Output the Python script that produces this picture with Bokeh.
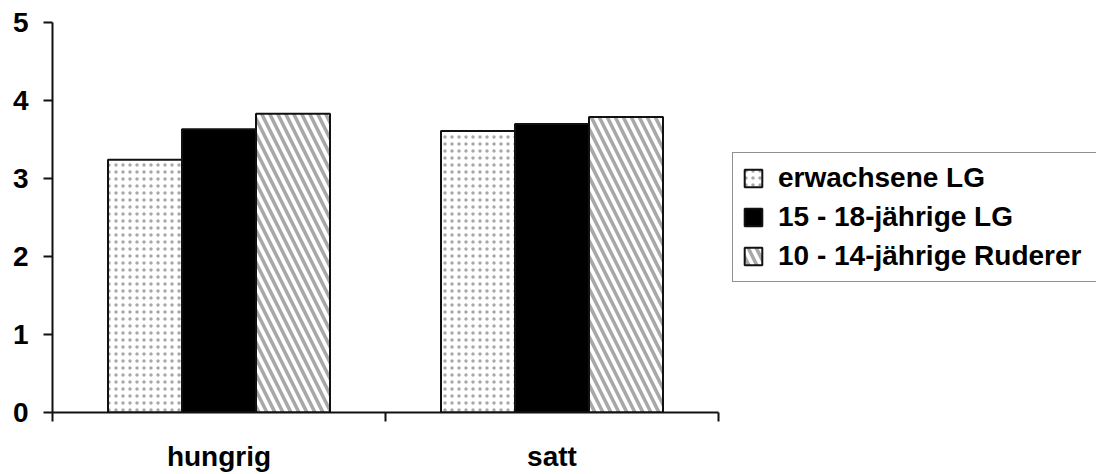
from bokeh.plotting import figure
from bokeh.models import Range1d, FixedTicker, Legend, LegendItem, ColumnDataSource
from bokeh.embed import file_html
from bokeh.resources import INLINE

# Data
categories = ["hungrig", "satt"]
series_names = ["erwachsene LG", "15 - 18-jährige LG", "10 - 14-jährige Ruderer"]
erwachsene_lg = [3.24, 3.61]
lg_15_18 = [3.63, 3.70]
ruderer_10_14 = [3.83, 3.79]
y_ticks = [0, 1, 2, 3, 4, 5]

series_values = [erwachsene_lg, lg_15_18, ruderer_10_14]

FONT = "Liberation Sans"
FONT_SIZE = "28px"

W, H = 1096, 474
LEFT, TOP, BOTTOM = 52, 22, 62
AXIS_PX = 666                      # pixel length of the category axis
n = len(categories)
frame_px = W - LEFT
x_end = n * frame_px / AXIS_PX     # frame runs on past the axis to hold the legend

p = figure(
    width=W, height=H,
    output_backend="svg", toolbar_location=None,
    x_range=Range1d(0, x_end), y_range=Range1d(0, 5),
    min_border_left=LEFT, min_border_right=0,
    min_border_top=TOP, min_border_bottom=BOTTOM,
    background_fill_color="white", border_fill_color="white",
)
p.grid.visible = False
p.outline_line_color = None

# three bars per group, gap of 1.5 bar widths between groups
bar_w = 1.0 / 4.5
offsets = [-bar_w, 0.0, bar_w]

styles = [
    dict(fill_color="white", hatch_pattern="dot", hatch_color="#a8a8a8",
         hatch_scale=7, hatch_weight=1),
    dict(fill_color="black"),
    dict(fill_color="white", hatch_pattern="left_diagonal_line", hatch_color="#a8a8a8",
         hatch_scale=16, hatch_weight=3.5),
]

renderers = []
for name, vals, off, st in zip(series_names, series_values, offsets, styles):
    src = ColumnDataSource(dict(
        x=[i + 0.5 + off for i in range(n)],
        top=vals,
    ))
    r = p.vbar(x="x", top="top", bottom=0, width=bar_w, source=src,
               line_color="#111111", line_width=2, **st)
    renderers.append(r)

# x axis: category names centred, tick marks between categories
xa = p.xaxis[0]
xa.bounds = (0, n)
xa.ticker = FixedTicker(ticks=[i + 0.5 for i in range(n)],
                        minor_ticks=list(range(n + 1)))
xa.major_label_overrides = {i + 0.5: c for i, c in enumerate(categories)}
xa.major_tick_out = 0
xa.major_tick_in = 0
xa.minor_tick_out = 9
xa.minor_tick_in = 0
xa.minor_tick_line_color = "#111111"
xa.minor_tick_line_width = 2
xa.axis_line_color = "#111111"
xa.axis_line_width = 2
xa.major_label_standoff = 19
xa.major_label_text_font = FONT
xa.major_label_text_font_style = "bold"
xa.major_label_text_font_size = FONT_SIZE
xa.major_label_text_color = "black"

ya = p.yaxis[0]
ya.ticker = FixedTicker(ticks=y_ticks, minor_ticks=[])
ya.major_tick_out = 9
ya.major_tick_in = 0
ya.major_tick_line_color = "#111111"
ya.major_tick_line_width = 2
ya.axis_line_color = "#111111"
ya.axis_line_width = 2
ya.major_label_standoff = 15
ya.major_label_text_font = FONT
ya.major_label_text_font_style = "bold"
ya.major_label_text_font_size = FONT_SIZE
ya.major_label_text_color = "black"

legend = Legend(
    items=[LegendItem(label=s, renderers=[r]) for s, r in zip(series_names, renderers)],
    location=(680, 130),
    border_line_color="#222222", border_line_width=1.5,
    background_fill_color="white", background_fill_alpha=1,
    padding=9, spacing=7, margin=0,
    glyph_width=22, glyph_height=22, label_standoff=14,
    label_width=309,
    label_text_font=FONT, label_text_font_style="bold",
    label_text_font_size=FONT_SIZE, label_text_color="black",
)
p.add_layout(legend)

open("out.html", "w").write(file_html(p, INLINE))
